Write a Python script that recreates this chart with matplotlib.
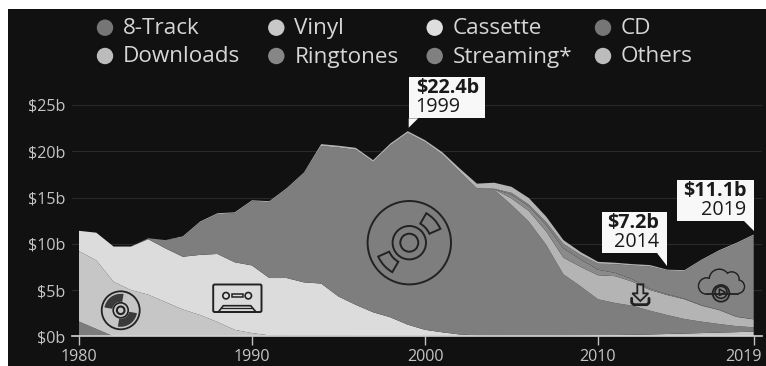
import numpy as np
import matplotlib
matplotlib.use("Agg")
import matplotlib.pyplot as plt
from matplotlib.patches import Circle, Wedge, Polygon, Rectangle, FancyBboxPatch

plt.rcParams['font.family'] = ['Open Sans', 'DejaVu Sans']

years = list(range(1980, 2020))
track8 = [1.6, .8] + [0] * 38
vinyl = [7.6, 7.4, 5.9, 5.0, 4.5, 3.7, 2.9, 2.3, 1.55, .7, .35, .1, .08, .08, .06, .06, .05, .05, .05, .05,
         .05, .05, .05, .05, .05, .05, .05, .05, .06, .1, .13, .14, .16, .2, .25, .3, .35, .4, .45, .5]
cassette = [2.2, 3.0, 3.8, 4.7, 6.0, 5.8, 5.7, 6.5, 7.35, 7.3, 7.31, 6.2, 6.22, 5.75, 5.64, 4.24, 3.35, 2.55, 2.0, 1.21,
            .65, .38, .15, .05, .01, 0, 0, 0, 0, 0, 0, 0, 0, 0, 0, 0, 0, 0, 0, 0]
cd = [0, 0, 0, 0, .1, .9, 2.1, 3.5, 4.3, 5.3, 6.94, 8.2, 9.6, 11.77, 14.87, 16.1, 16.77, 16.24, 18.59, 20.71,
      20.3, 19.22, 17.6, 15.9, 15.79, 14.15, 12.35, 9.85, 6.64, 5.3, 3.87, 3.46, 3.14, 2.57, 2.05, 1.57, 1.23, .93, .65, .47]
downloads = [0] * 24 + [.05, .7, 1.15, 1.45, 1.8, 2.1, 2.6, 2.9, 2.6, 2.23, 2.16, 2.13, 1.72, 1.51, 1.0, .86]
ringtones = [0] * 24 + [.03, .4, .5, .7, 1.0, .8, .6, .35, .25, .15, .1, .07, .05, .03, .02, .02]
streaming = [0] * 24 + [.02, .21, .2, .3, .5, .5, .65, .95, 1.5, 2.4, 2.54, 2.98, 4.85, 6.33, 7.88, 9.05]
others = [0] * 6 + [.1] * 8 + [.2] * 7 + [.25, .35, .5, .65, .65, .7, .6, .4, .3, .2, .15, .15, .15, .1, .1, .1, .1, .1, .1]

series_names = ['8-Track', 'Vinyl', 'Cassette', 'CD', 'Downloads', 'Ringtones', 'Streaming*', 'Others']
band_colors = ['#7c7c7c', '#c6c6c6', '#dcdcdc', '#7e7e7e', '#b4b4b4', '#8a8a8a', '#828282', '#b4b4b4']
legend_dots = ['#767676', '#c8c8c8', '#dedede', '#767676', '#bcbcbc', '#868686', '#808080', '#bcbcbc']

y_ticks = [0, 5, 10, 15, 20, 25]
y_labels = ['$0b', '$5b', '$10b', '$15b', '$20b', '$25b']
x_ticks = [1980, 1990, 2000, 2010, 2019]
callouts = [(1999, '$22.4b', '1999'), (2014, '$7.2b', '2014'), (2019, '$11.1b', '2019')]

W, H = 766, 366
BG = '#111111'
fig = plt.figure(figsize=(W / 100, H / 100), dpi=100, facecolor='white')
fig.patches.append(Rectangle((8 / W, 0), 1, 1 - 9 / H, transform=fig.transFigure, fc=BG, ec='none', zorder=-5))

# main axes: 72..762 px horizontally, 105..336.3 px vertically
px_year = (753.7 - 79) / 39
x0 = 1980 - (79 - 72) / px_year
x1 = 2019 + (762 - 753.7) / px_year
ax = fig.add_axes([72 / W, (H - 336.3) / H, (762 - 72) / W, (336.3 - 105) / H])
ax.patch.set_alpha(0)
ax.stackplot(years, track8, vinyl, cassette, cd, downloads, ringtones, streaming, others,
             colors=band_colors, linewidth=0)
ax.set_xlim(x0, x1)
ax.set_ylim(0, 25)
ax.set_yticks(y_ticks, y_labels)
ax.set_xticks(x_ticks, [str(v) for v in x_ticks[:-1]] + [''])
ax.tick_params(axis='y', length=0, pad=5, labelsize=11.6, labelcolor='#c4c4c4')
ax.tick_params(axis='x', length=6.5, width=1, color='#c0c0c0', pad=2.5, labelsize=11.6, labelcolor='#c4c4c4')
ax.yaxis.grid(True, color='#2a2a2a', lw=0.8)
ax.set_axisbelow(True)
for s in ['top', 'left', 'right']:
    ax.spines[s].set_visible(False)
ax.spines['bottom'].set_color('#d4d4d4')
ax.spines['bottom'].set_linewidth(1.2)
ax.annotate('2019', xy=(2019, 0), xytext=(6, -9), textcoords='offset points', ha='right', va='top',
            fontsize=11.6, color='#c4c4c4', annotation_clip=False)

# pixel overlay for legend, callouts, icons
ov = fig.add_axes([0, 0, 1, 1], zorder=5)
ov.set_xlim(0, W)
ov.set_ylim(H, 0)
ov.axis('off')

def to_px(year, value):
    dx, dy = ax.transData.transform((year, value))
    return dx, H - dy

# legend
col_dot = [105, 276.3, 434.7, 603]
row_y = [27.7, 56]
for i, (name, dot) in enumerate(zip(series_names, legend_dots)):
    r, c = divmod(i, 4)
    ov.add_patch(Circle((col_dot[c], row_y[r]), 8.2, fc=dot, ec='none'))
    ov.text(col_dot[c] + 18, row_y[r] + 1, name, fontsize=16.2, color='#d6d6d6', va='center', ha='left')

# callouts
totals = np.sum([track8, vinyl, cassette, cd, downloads, ringtones, streaming, others], axis=0)
boxes = {1999: (408.7, 77.3, 484.7, 118.3), 2014: (601.7, 212.3, 667, 253.3), 2019: (677, 180, 753.7, 221)}
gaps = {1999: 3.5, 2014: 4, 2019: 4}
for yr, val, lab in callouts:
    l, t, r_, b = boxes[yr]
    tx, ty = to_px(yr, totals[years.index(yr)])
    ty -= gaps[yr]
    if yr == 1999:
        tri = [(l, b), (l + 9.5, b), (l, ty)]
        ax_x, ha = l + 7, 'left'
    else:
        tri = [(r_ - 10, b), (r_, b), (r_, ty)]
        ax_x, ha = r_ - 7.5, 'right'
    ov.add_patch(Rectangle((l, t), r_ - l, b - t, fc='#f8f8f8', ec='none'))
    ov.add_patch(Polygon(tri, fc='#f8f8f8', ec='none'))
    ov.text(ax_x, t + 11, val, fontsize=14.2, fontweight='bold', color='#1a1a1a', ha=ha, va='center')
    ov.text(ax_x, t + 29.6, lab, fontsize=14.2, color='#1a1a1a', ha=ha, va='center')

INK = '#222222'
LW = 1.2

def ring(cx, cy, r, lw=LW, fc='none', ec=INK):
    ov.add_patch(Circle((cx, cy), r, fc=fc, ec=ec, lw=lw))

# vinyl icon
vx, vy = 120.7, 310.3
ring(vx, vy, 19, lw=1.3)
for a1, a2 in [(190, 280), (10, 100)]:
    ov.add_patch(Wedge((vx, vy), 16.5, a1, a2, width=8, fc='#3a3a3a', ec='none'))
ring(vx, vy, 7.5)
ring(vx, vy, 3.8, lw=1.5)

# cassette icon
ov.add_patch(FancyBboxPatch((213.2, 284.5), 48.3, 27.5, boxstyle='round,pad=0,rounding_size=1.5', fc='none', ec=INK, lw=1.4))
ring(226, 295.7, 3.2)
ring(248.3, 295.7, 3.2)
ov.add_patch(Rectangle((231.5, 293.8), 11, 3.6, fc='none', ec=INK, lw=1.1))
ov.add_patch(Polygon([(218.3, 312), (223.3, 305.7), (250.7, 305.7), (256, 312)], fc='none', ec=INK, lw=1.2))
ov.plot([222, 252], [308.3, 308.3], color=INK, lw=0.9)

# CD icon
cx, cy = 409.3, 242.7
ring(cx, cy, 41.7, lw=1.4)
ring(cx, cy, 16.7, lw=1.4)
ring(cx, cy, 9, lw=1.4)
for a1, a2 in [(-60, -24), (120, 156)]:
    ov.add_patch(Wedge((cx, cy), 34, a1, a2, width=12, fc='none', ec=INK, lw=1.4))

# download icon
def dl(p):
    return [(600 + x / 3, 240 + y / 3) for x, y in p]
ov.add_patch(Polygon(dl([(112, 133), (130, 133), (130, 160), (145, 160), (121, 183), (97, 160), (112, 160)]),
                     fc='none', ec=INK, lw=1.3))
tray = np.array(dl([(95, 175), (95, 188), (101, 194), (141, 194), (147, 188), (147, 175)]))
ov.plot(tray[:, 0], tray[:, 1], color=INK, lw=2.0, solid_capstyle='round')

# cloud icon (outlined lobes, interior covered with the band colour)
GC = band_colors[6]
lobes = [(320, 138, 24), (358, 118, 30), (395, 118, 22), (413, 140, 20)]
lobes = [(600 + x / 3, 240 + y / 3, r / 3) for x, y, r in lobes]
for x, y, r in lobes:
    ring(x, y, r, lw=1.3)
ov.plot([600 + 320 / 3, 600 + 413 / 3], [240 + 162 / 3] * 2, color=INK, lw=1.3)
for x, y, r in lobes:
    ov.add_patch(Circle((x, y), r - 0.6, fc=GC, ec='none'))
ov.add_patch(Rectangle((600 + 320 / 3, 240 + 118 / 3), 93 / 3, 43 / 3, fc=GC, ec='none'))
ring(600 + 363 / 3, 240 + 160 / 3, 25 / 3, lw=1.3, fc=GC)
ring(600 + 363 / 3, 240 + 157 / 3, 18 / 3, lw=1.2)
ov.add_patch(Polygon(dl([(358, 147), (358, 167), (376, 157)]), fc='none', ec=INK, lw=1.1))

fig.savefig('out.png', dpi=100, facecolor='white')
